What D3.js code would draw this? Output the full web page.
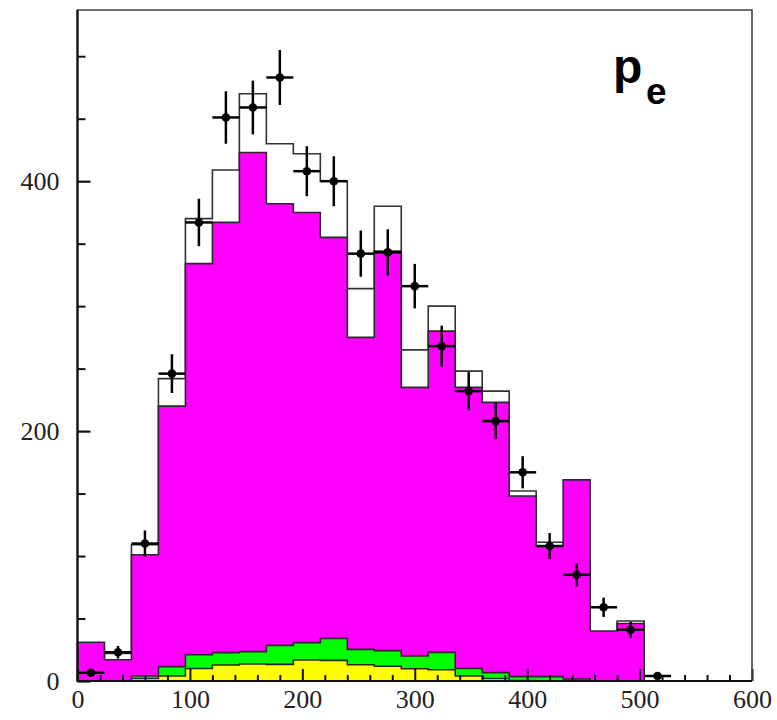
<!DOCTYPE html>
<html>
<head>
<meta charset="utf-8">
<script src="https://cdn.jsdelivr.net/npm/d3@7/dist/d3.min.js"></script>
<style>
  body { margin: 0; background: #fff; }
  svg { display: block; }
  .axis text { font-family: "Liberation Serif", "Times New Roman", serif; font-size: 26px; fill: #222; }
  .axis .domain { display: none; }
</style>
</head>
<body>
<svg id="chart" width="777" height="720"></svg>
<script>
// histogram bins, width 24, low edges
const binEdges = [0, 24, 48, 72, 96, 120, 144, 168, 192, 216, 240, 264, 288, 312, 336, 360, 384, 408, 432, 456, 480, 504];
const binWidth = 24;

// stacked MC (magenta is the total), outline MC, two backgrounds
const totalMC   = [31, 17, 101, 220, 334, 367, 423, 382, 375, 355, 275, 344, 235, 280, 235, 223, 148, 108, 161, 40, 46, 0];
const altMC     = [8, 22, 109, 242, 370, 409, 470, 430, 422, 400, 314, 380, 265, 300, 248, 232, 152, 111, 95, 38, 48, 0];
const bkgGreen  = [0, 0, 4, 11.5, 21, 22.7, 23.5, 28.5, 30.7, 34, 25.3, 24.3, 20, 22.9, 10, 6.7, 3.5, 3.5, 1.6, 0, 0, 0];
const bkgYellow = [0, 0, 2, 4, 10, 12.8, 13.6, 13.3, 16.8, 16.5, 13, 11.8, 9.8, 9, 4, 2, 0.3, 0, 0, 0, 0, 0];

// data points with errors
const dataVals = [6.6, 23, 110, 246, 367, 451, 459, 483, 408, 400, 342, 343, 316, 268, 232, 208, 167, 108, 85, 59, 41, 4];
const dataErr  = [2.5, 5, 10.5, 15.5, 19, 21, 21.5, 22, 20, 20, 18.5, 18.5, 17.8, 16.4, 15.2, 14.4, 12.9, 10.4, 9.2, 7.7, 6.4, 2];

const xMajorTicks = [0, 100, 200, 300, 400, 500, 600];
const xMinorTicks = [20, 40, 60, 80, 120, 140, 160, 180, 220, 240, 260, 280, 320, 340, 360, 380, 420, 440, 460, 480, 520, 540, 560, 580];
const yMajorTicks = [0, 200, 400];
const yMinorTicks = [50, 100, 150, 250, 300, 350, 450, 500];

//----------------------------------------------------------------------------------
// frame + scales

const svg = d3.select("#chart");
const frame = { left: 77.5, right: 752, top: 10, bottom: 681 };

let x = d3.scaleLinear().domain([0, 600]).range([frame.left, frame.right]);
let y = d3.scaleLinear().domain([0, 537]).range([frame.bottom, frame.top]);

// step outline of a histogram, closed along the baseline
function stepPath(vals) {
    let pts = [[binEdges[0], 0]];
    vals.forEach((v, i) => {
        pts.push([binEdges[i], v]);
        pts.push([binEdges[i] + binWidth, v]);
    });
    pts.push([binEdges[vals.length - 1] + binWidth, 0]);
    return d3.line().x(d => x(d[0])).y(d => y(d[1]))(pts);
}

//----------------------------------------------------------------------------------
// histograms (outline MC first so the magenta hides it where lower)

svg.append("path")
    .attr("d", stepPath(altMC))
    .attr("fill", "none")
    .attr("stroke", "#333")
    .attr("stroke-width", 1.6);

[[totalMC, "#ff00ff"], [bkgGreen, "#00ff00"], [bkgYellow, "#ffff00"]].forEach(([vals, col]) => {
    svg.append("path")
        .attr("d", stepPath(vals))
        .attr("fill", col)
        .attr("stroke", "#2a2a2a")
        .attr("stroke-width", 1.6);
});

//----------------------------------------------------------------------------------
// data points

let pts = svg.append("g").attr("class", "data");
dataVals.forEach((v, i) => {
    let cx = x(binEdges[i] + binWidth / 2);
    pts.append("line")
        .attr("x1", x(binEdges[i])).attr("x2", x(binEdges[i] + binWidth))
        .attr("y1", y(v)).attr("y2", y(v))
        .attr("stroke", "#000").attr("stroke-width", 2.5);
    pts.append("line")
        .attr("x1", cx).attr("x2", cx)
        .attr("y1", y(v - dataErr[i])).attr("y2", y(v + dataErr[i]))
        .attr("stroke", "#000").attr("stroke-width", 2.5);
    pts.append("circle")
        .attr("cx", cx).attr("cy", y(v)).attr("r", 4.3)
        .attr("fill", "#000");
});

//----------------------------------------------------------------------------------
// axes, ticks point inwards

svg.append("g")
    .attr("class", "axis")
    .attr("transform", `translate(0,${frame.bottom})`)
    .call(d3.axisBottom(x).tickValues(xMinorTicks).tickSize(-6).tickFormat(""))
    .selectAll("line").attr("stroke", "#111").attr("stroke-width", 2);

svg.append("g")
    .attr("class", "axis")
    .attr("transform", `translate(0,${frame.bottom})`)
    .call(d3.axisBottom(x).tickValues(xMajorTicks).tickSize(-12).tickPadding(9).tickFormat(d3.format("d")))
    .selectAll("line").attr("stroke", "#111").attr("stroke-width", 2);

svg.append("g")
    .attr("class", "axis")
    .attr("transform", `translate(${frame.left},0)`)
    .call(d3.axisLeft(y).tickValues(yMinorTicks).tickSize(-8).tickFormat(""))
    .selectAll("line").attr("stroke", "#111").attr("stroke-width", 2);

svg.append("g")
    .attr("class", "axis")
    .attr("transform", `translate(${frame.left},0)`)
    .call(d3.axisLeft(y).tickValues(yMajorTicks).tickSize(-13).tickPadding(18).tickFormat(d3.format("d")))
    .selectAll("line").attr("stroke", "#111").attr("stroke-width", 2.2);

// frame
svg.append("path")
    .attr("d", `M${frame.left},${frame.bottom}V${frame.top}H${frame.right}V${frame.bottom}`)
    .attr("fill", "none").attr("stroke", "#444").attr("stroke-width", 1.6);
svg.append("path")
    .attr("d", `M${frame.left},${frame.top}V${frame.bottom}H${frame.right}`)
    .attr("fill", "none").attr("stroke", "#111").attr("stroke-width", 2.2);

//----------------------------------------------------------------------------------
// label

let lbl = svg.append("text")
    .attr("x", 613).attr("y", 83)
    .attr("font-family", "'Liberation Sans', Arial, sans-serif")
    .attr("font-weight", "bold")
    .attr("font-size", 48)
    .attr("fill", "#000")
    .text("p");
lbl.append("tspan")
    .attr("x", 646).attr("y", 104)
    .attr("font-size", 37)
    .text("e");
</script>
</body>
</html>
